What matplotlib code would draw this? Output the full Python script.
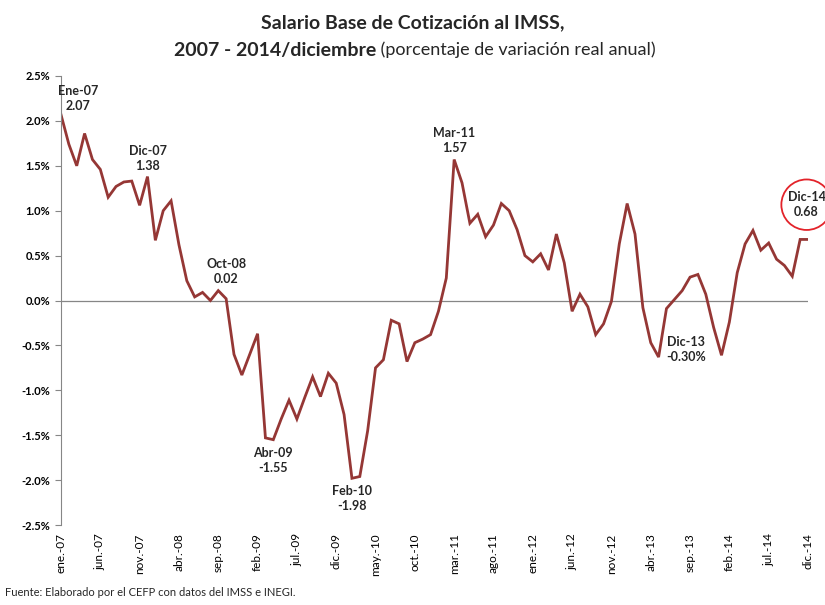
import numpy as np
import matplotlib.pyplot as plt

plt.rcParams['font.family'] = ['Lato', 'DejaVu Sans']

# monthly real annual change, ene-07 .. dic-14
values_2007 = [2.07, 1.74, 1.50, 1.86, 1.57, 1.46, 1.15, 1.27, 1.32, 1.33, 1.06, 1.38]
values_2008 = [0.67, 1.00, 1.11, 0.62, 0.22, 0.04, 0.09, 0.00, 0.11, 0.02, -0.60, -0.83]
values_2009 = [-0.60, -0.37, -1.53, -1.55, -1.32, -1.11, -1.32, -1.08, -0.85, -1.07, -0.81, -0.92]
values_2010 = [-1.27, -1.98, -1.96, -1.45, -0.75, -0.66, -0.22, -0.26, -0.68, -0.47, -0.43, -0.38]
values_2011 = [-0.12, 0.25, 1.57, 1.31, 0.86, 0.96, 0.71, 0.84, 1.08, 1.00, 0.79, 0.50]
values_2012 = [0.43, 0.52, 0.34, 0.74, 0.42, -0.12, 0.07, -0.07, -0.38, -0.26, -0.01, 0.63]
values_2013 = [1.08, 0.74, -0.08, -0.47, -0.63, -0.09, 0.01, 0.11, 0.26, 0.29, 0.07, -0.30]
values_2014 = [-0.61, -0.24, 0.31, 0.63, 0.78, 0.56, 0.64, 0.46, 0.39, 0.27, 0.68, 0.68]

months = ["ene.", "feb.", "mar.", "abr.", "may.", "jun.", "jul.", "ago.", "sep.", "oct.", "nov.", "dic."]
years = ["07", "08", "09", "10", "11", "12", "13", "14"]

values = (values_2007 + values_2008 + values_2009 + values_2010 +
          values_2011 + values_2012 + values_2013 + values_2014)
labels = [f"{m}-{y}" for y in years for m in months]
x = np.arange(len(values))

# annotated points: (index, label text, offset in points)
notes = [
    (0, "Ene-07\n2.07", (12, 2)),
    (11, "Dic-07\n1.38", (0, 3)),
    (21, "Oct-08\n0.02", (0, 10)),
    (27, "Abr-09\n-1.55", (0, -5)),
    (37, "Feb-10\n-1.98", (0, -5)),
    (50, "Mar-11\n1.57", (0, 4)),
    (83, "Dic-13\n-0.30%", (-20, -6)),
]

fig = plt.figure(figsize=(8.25, 6.05), dpi=100)
ax = fig.add_axes([61 / 825, 80 / 605, 747 / 825, 449 / 605])

ax.plot(x, values, color="#953735", lw=2.0, solid_joinstyle="miter")
ax.axhline(0, color="#868686", lw=0.9, zorder=0)

ax.set_xlim(0, 95)
ax.set_ylim(-2.5, 2.5)
ax.set_yticks(np.arange(-2.5, 2.51, 0.5))
ax.set_yticklabels([f"{v:.1f}%" for v in np.arange(-2.5, 2.51, 0.5)], fontweight="bold", fontsize=8)
ax.set_xticks(x[::5])
ax.set_xticklabels(labels[::5], rotation=90, fontsize=8.5)
ax.tick_params(axis="x", length=0, pad=6)
ax.tick_params(axis="y", length=4, color="#868686", pad=4)

for side in ["top", "right", "bottom"]:
    ax.spines[side].set_visible(False)
ax.spines["left"].set_color("#868686")

for i, txt, off in notes:
    va = "bottom" if off[1] > 0 else "top"
    ax.annotate(txt, (x[i], values[i]), xytext=off, textcoords="offset points",
                ha="center", va=va, fontsize=9, fontweight="bold", color="#262626",
                linespacing=1.3)

ax.annotate("Dic-14\n0.68", (x[95], values[95]), xytext=(-1, 25), textcoords="offset points",
            ha="center", va="center", fontsize=9, fontweight="bold", color="#262626",
            linespacing=1.3, annotation_clip=False,
            bbox=dict(boxstyle="circle,pad=0.5", fc="none", ec="#E3232A", lw=1.3))

fig.text(0.5, 0.962, "Salario Base de Cotización al IMSS,", ha="center", va="center",
         fontsize=14, fontweight="bold", color="#262626")

# second title line: bold part + normal part, centred together
renderer = fig.canvas.get_renderer()
t1 = fig.text(0, 0.917, "2007 - 2014/diciembre", ha="left", va="center",
              fontsize=14, fontweight="bold", color="#262626")
t2 = fig.text(0, 0.917, " (porcentaje de variación real anual)", ha="left", va="center",
              fontsize=13, color="#262626")
w1 = t1.get_window_extent(renderer).width / fig.bbox.width
w2 = t2.get_window_extent(renderer).width / fig.bbox.width
start = 0.5 - (w1 + w2) / 2 + 0.003
t1.set_x(start)
t2.set_x(start + w1)

fig.text(0.006, 0.012, "Fuente: Elaborado por el CEFP con datos del IMSS e INEGI.",
         ha="left", va="bottom", fontsize=8, color="#262626")

fig.savefig("out.png", dpi=100)
